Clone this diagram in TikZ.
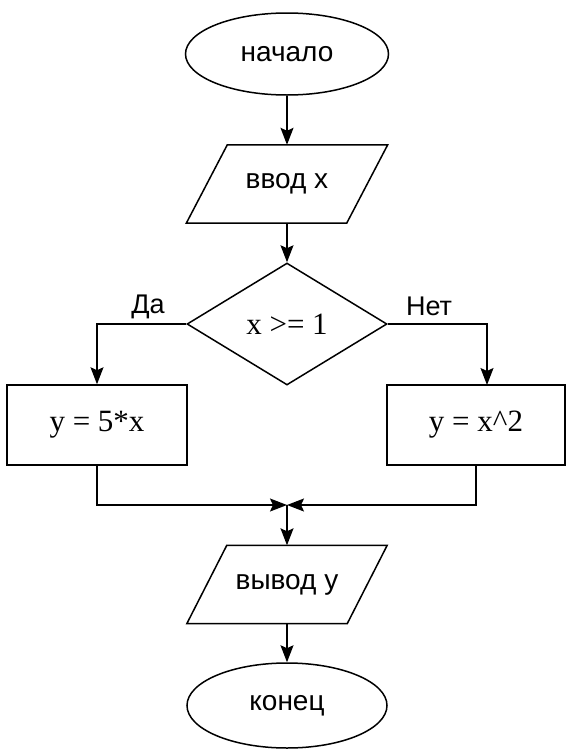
\documentclass[tikz,border=0pt]{standalone}
\usepackage{fontspec}
\setmainfont{Liberation Sans}
\newfontfamily\formfont{Liberation Serif}
\usetikzlibrary{shapes.geometric,arrows.meta}
\begin{document}
\begin{tikzpicture}[x=1pt,y=-1pt,
  every node/.style={font=\fontsize{28}{30}\selectfont, text=black},
  line/.style={line width=1.5pt},
  arr/.style={line, -{Stealth[length=17pt,width=13pt,inset=3pt]}},
  term/.style={ellipse, draw, line, inner sep=0pt},
  decision/.style={diamond, draw, line, inner sep=0pt, minimum width=200pt, minimum height=122pt},
  proc/.style={rectangle, draw, line, minimum height=80pt, inner sep=0pt},
  io/.style={inner sep=0pt, minimum width=160pt, minimum height=78pt},
  formula/.style={font=\formfont\fontsize{31}{34}\selectfont},
  lbl/.style={font=\fontsize{27}{29}\selectfont}]
\useasboundingbox (0,0) rectangle (574,756);
\fill[white] (0,0) rectangle (574,756);

\node[term, minimum width=203pt, minimum height=82pt] (start) at (287,54) {начало};
\node[io] (in) at (287,184) {ввод x};
\draw[line, line join=miter] ([xshift=-20.5pt]in.south west) -- ([xshift=20.5pt]in.north west)
  -- ([xshift=20.5pt]in.north east) -- ([xshift=-20.5pt]in.south east) -- cycle;
\node[decision, formula] (dec) at (287,324) {x >= 1};
\node[proc, formula, minimum width=180pt] (lbox) at (97,425) {y = 5*x};
\node[proc, formula, minimum width=178pt] (rbox) at (476,425) {y = x\textasciicircum 2};
\node[io] (out) at (287,584.5) {вывод y};
\draw[line, line join=miter] ([xshift=-20pt]out.south west) -- ([xshift=20pt]out.north west)
  -- ([xshift=20pt]out.north east) -- ([xshift=-20pt]out.south east) -- cycle;
\node[term, minimum width=200pt, minimum height=85pt] (end) at (287,705.5) {конец};

\node[lbl] (yes) at (148,307) {Да};
\node[lbl] (no) at (429,306) {Нет};

\coordinate (m) at (287,505);
\coordinate (rin) at (487,385);

\draw[arr] (start) -- (in);
\draw[arr] (in) -- (dec);
\draw[arr] (dec.west) -| (lbox.north);
\draw[arr] (dec.east) -| (rin);
\draw[arr] (lbox.south) |- (m);
\draw[arr] (rbox.south) |- (m);
\draw[arr] (m) -- (out);
\draw[arr] (out) -- (end);
\end{tikzpicture}
\end{document}
